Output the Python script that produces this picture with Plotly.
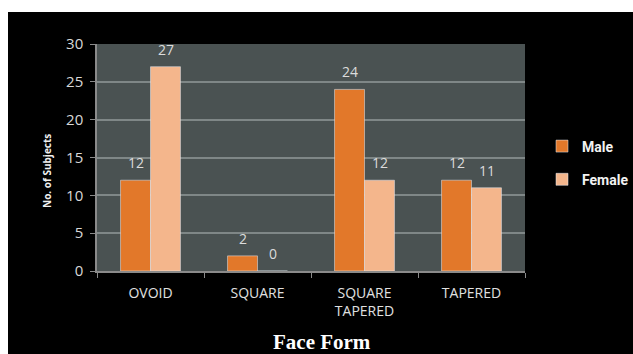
import plotly.graph_objects as go

categories = ["OVOID", "SQUARE", "SQUARE<br>TAPERED", "TAPERED"]
male = [12, 2, 24, 12]
female = [27, 0, 12, 11]
y_ticks = [0, 5, 10, 15, 20, 25, 30]

W, H = 633, 354
L, R, T, B = 97, 108, 44, 83
PW, PH = W - L - R, H - T - B
X0 = 271  # pixel row of the x axis


def px(x):
    return (x - L) / PW


def py(y):
    return (X0 - y) / PH


fig = go.Figure()
fig.add_trace(go.Bar(name="Male", x=categories, y=male, marker_color="#E2782A",
                     legendgroup="m"))
fig.add_trace(go.Bar(name="Female", x=categories, y=female, marker_color="#F4B68C",
                     legendgroup="f"))

# value labels
for vals, shift in ((male, -15), (female, 15)):
    for c, v in zip(categories, vals):
        fig.add_annotation(x=c, y=v, text=str(v), showarrow=False, xshift=shift,
                           yanchor="bottom", yshift=6,
                           font=dict(family="Open Sans", size=14, color="#dcdcdc"))

fig.add_annotation(xref="paper", yref="paper", x=px(38), y=py(171),
                   text="<b>No. of Subjects</b>", textangle=-90, showarrow=False,
                   font=dict(family="Open Sans", size=10, color="#f0f0f0"))
fig.add_annotation(xref="paper", yref="paper", x=px(322), y=py(342),
                   text="<b>Face Form</b>", showarrow=False, yanchor="middle",
                   font=dict(family="Liberation Serif", size=21, color="#ffffff"))

# white strips (top and left border of the picture)
fig.add_shape(type="rect", xref="paper", yref="paper",
              x0=px(-2), x1=px(W + 2), y0=py(12), y1=py(-2),
              fillcolor="white", line_width=0, layer="below")
fig.add_shape(type="rect", xref="paper", yref="paper",
              x0=px(-2), x1=px(8), y0=py(H + 2), y1=py(-2),
              fillcolor="white", line_width=0, layer="below")

fig.update_layout(
    width=W, height=H,
    margin=dict(l=L, r=R, t=T, b=B, autoexpand=False),
    paper_bgcolor="black", plot_bgcolor="#4A5252",
    barmode="group", bargap=0.44, bargroupgap=0,
    showlegend=True,
    legend=dict(x=px(542), xanchor="left", y=py(163), yanchor="middle",
                traceorder="grouped", tracegroupgap=12,
                font=dict(family="Roboto", size=14, color="#f2f2f2", weight="bold"),
                bgcolor="rgba(0,0,0,0)"),
    xaxis=dict(showline=True, linecolor="#8a8a8a", linewidth=1.5,
               ticks="outside", tickson="boundaries", ticklen=5, tickcolor="#8a8a8a",
               tickfont=dict(family="Open Sans", size=14, color="#e0e0e0"),
               ticklabelstandoff=8, showgrid=False),
    yaxis=dict(range=[0, 30], tickvals=y_ticks, showline=True, linecolor="#8a8a8a", linewidth=1.5,
               ticks="outside", ticklen=5, tickcolor="#8a8a8a",
               tickfont=dict(family="Open Sans", size=15, color="#d8d8d8"),
               ticklabelstandoff=4,
               showgrid=True, gridcolor="#7f8787", gridwidth=1.5, zeroline=False),
)

fig.write_html("out.html")
